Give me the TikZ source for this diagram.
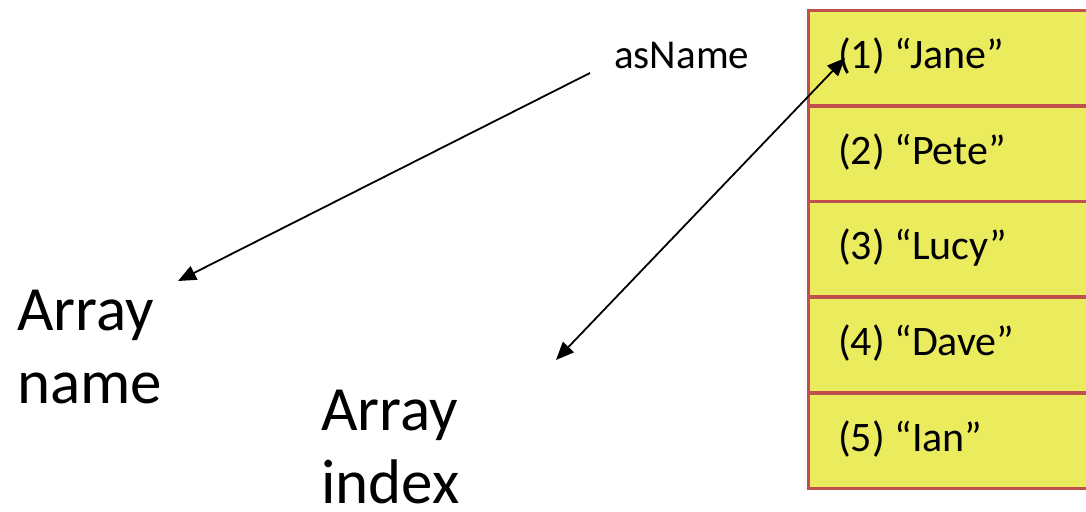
\documentclass[tikz,border=0pt]{standalone}
\usepackage{fontspec}
\setmainfont{Carlito}
\usetikzlibrary{arrows.meta}
\definecolor{cellfill}{RGB}{235,235,94}
\definecolor{cellline}{RGB}{192,80,77}
\tikzset{
  cell/.style={draw=cellline, line width=3pt, fill=cellfill, minimum width=300pt, minimum height=95pt, anchor=north west, inner sep=0pt},
  celltext/.style={font=\fontsize{42}{49}\selectfont, anchor=west, inner sep=0pt},
  biglabel/.style={font=\fontsize{63}{73}\selectfont, align=left, anchor=base west, inner sep=0pt},
  conn/.style={line width=1.8pt, -{Triangle[length=18pt,width=15pt]}},
}
\begin{document}
\begin{tikzpicture}[x=1pt,y=-1pt]
\useasboundingbox (0,0) rectangle (1086,511);
\fill[white] (0,0) rectangle (1086,511);
\foreach \i/\t [count=\k] in {9/{(1) “Jane”},104.5/{(2) “Pete”},200/{(3) “Lucy”},296/{(4) “Dave”},392/{(5) “Ian”}}{
  \node[cell] (b\k) at (807,\i) {};
  \node[celltext] (t\k) at (838,\i+47.5) {\t};
}
\node[font=\fontsize{41}{49}\selectfont, anchor=base west, inner sep=0pt] (asname) at (614,68) {asName};
\node[biglabel] (aname) at (17,403) {Array\\name};
\node[biglabel, text depth=0pt] (aindex) at (321,503) {Array\\index};
\coordinate (s1) at (590,73);
\coordinate (e1) at (178,281);
\coordinate (s2) at (556,360);
\coordinate (e2) at (845,58);
\draw[conn] (s1) -- (e1);
\draw[conn, {Triangle[length=18pt,width=15pt]}-{Triangle[length=18pt,width=15pt]}] (s2) -- (e2);
\end{tikzpicture}
\end{document}
